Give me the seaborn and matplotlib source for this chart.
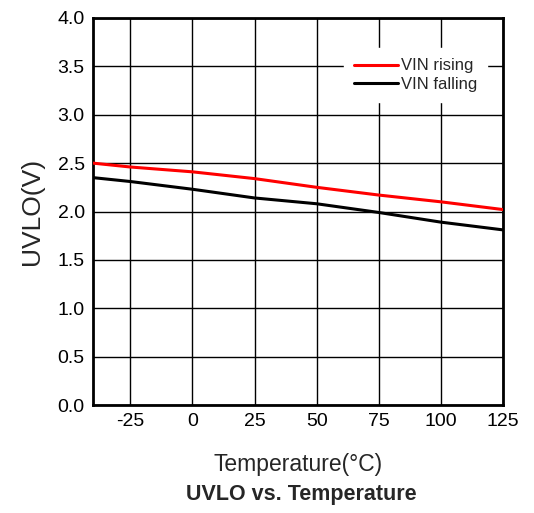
import numpy as np
import pandas as pd
import matplotlib
matplotlib.use("Agg")
import matplotlib.pyplot as plt
import seaborn as sns

# data
temperature = [-40, -25, 0, 25, 50, 75, 100, 125]
vin_rising = [2.50, 2.46, 2.41, 2.34, 2.25, 2.17, 2.10, 2.02]
vin_falling = [2.35, 2.31, 2.23, 2.14, 2.08, 1.99, 1.89, 1.81]
x_ticks = [-25, 0, 25, 50, 75, 100, 125]
y_ticks = [0.0, 0.5, 1.0, 1.5, 2.0, 2.5, 3.0, 3.5, 4.0]

df = pd.DataFrame({
    "Temperature": temperature * 2,
    "UVLO": vin_rising + vin_falling,
    "Series": ["VIN rising"] * len(temperature) + ["VIN falling"] * len(temperature),
})

sns.set_style("white")
plt.rcParams["font.family"] = ["Liberation Sans", "DejaVu Sans"]
plt.rcParams["axes.unicode_minus"] = False

fig = plt.figure(figsize=(5.34, 5.13), dpi=100)
ax = fig.add_axes([93 / 534, 1 - 405 / 513, (503 - 93) / 534, (405 - 18) / 513])

sns.lineplot(data=df, x="Temperature", y="UVLO", hue="Series",
             palette={"VIN rising": "#ff0000", "VIN falling": "#000000"},
             linewidth=2.2, ax=ax, zorder=3)

ax.set_xlim(-40, 125)
ax.set_ylim(0, 4)
ax.set_xticks(x_ticks)
ax.set_yticks(y_ticks)
ax.set_yticklabels([f"{v:.1f}" for v in y_ticks])
ax.grid(True, color="black", linewidth=1.0)
ax.tick_params(axis="both", length=0, labelsize=14, colors="black", pad=6)
for sp in ax.spines.values():
    sp.set_color("black")
    sp.set_linewidth(2)

ax.set_xlabel("Temperature(°C)", fontsize=16.5, labelpad=16)
ax.set_ylabel("UVLO(V)", fontsize=19, labelpad=10)

leg = ax.legend(loc="upper right", bbox_to_anchor=(0.97, 0.93), frameon=True,
                fontsize=12, handlelength=2.6, handletextpad=0.2,
                borderpad=0.3, labelspacing=0.2)
leg.get_frame().set_edgecolor("white")
leg.get_frame().set_facecolor("white")
leg.get_frame().set_alpha(1)
leg.get_frame().set_boxstyle("square")

fig.text(0.565, 0.036, "UVLO vs. Temperature", ha="center", va="center",
         fontsize=15.5, fontweight="bold")

fig.savefig("out.png", dpi=100)
